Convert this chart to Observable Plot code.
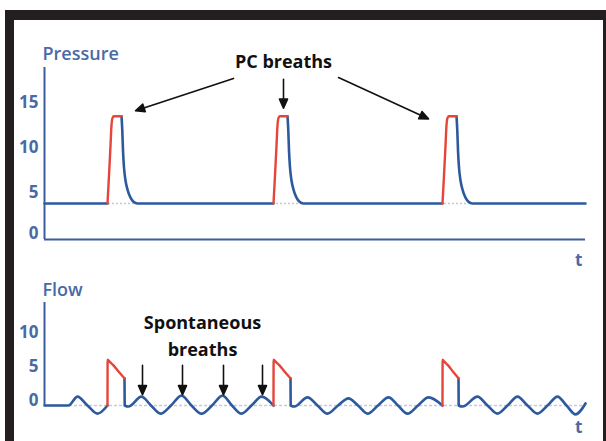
<!DOCTYPE html>
<html><head><meta charset="utf-8">
<script src="https://cdn.jsdelivr.net/npm/d3@7"></script>
<script src="https://cdn.jsdelivr.net/npm/@observablehq/plot@0.6"></script>
<style>
body{margin:0;background:#fff;}
#wrap{position:relative;width:606px;height:441px;overflow:hidden;}
#frame{position:absolute;left:5px;top:10px;width:603px;height:441px;box-sizing:border-box;border-style:solid;border-color:#231f20;border-width:10px 5px 10px 9px;pointer-events:none;}
#p,#f{position:absolute;left:0;}
#p{top:0;}
#f{top:270px;}
</style></head><body>
<div id="wrap"><div id="p"></div><div id="f"></div><div id="frame"></div></div>
<script>
// ---- Data (time in s, pressure in cmH2O, flow units as on the axis) ----
// Pressure: blue trace (PEEP baseline + expiratory decay); NaN = gap where red inspiration is drawn
const pressureBlueT = [0, 1.575, NaN, 1.925, 1.945, 1.9625, 1.9875, 2.025, 2.075, 2.15, 2.225, 2.325, 5.725, NaN,
  6.075, 6.095, 6.1125, 6.1375, 6.175, 6.225, 6.3, 6.375, 6.475, 9.95, NaN,
  10.3, 10.32, 10.3375, 10.3625, 10.4, 10.45, 10.525, 10.6, 10.7, 13.525];
const pressureBlueV = [4, 4, NaN, 13.7, 12.1, 9.9, 8.0, 6.55, 5.55, 4.65, 4.2, 4.0, 4, NaN,
  13.7, 12.1, 9.9, 8.0, 6.55, 5.55, 4.65, 4.2, 4, 4, NaN,
  13.7, 12.1, 9.9, 8.0, 6.55, 5.55, 4.65, 4.2, 4, 4];
// Pressure: red inspiratory phase of the PC breaths
const pressureRedT = [1.575, 1.6125, 1.65, 1.675, 1.6925, 1.7125, 1.7375, 1.925, NaN,
  5.725, 5.7625, 5.8, 5.825, 5.8425, 5.8625, 5.8875, 6.075, NaN,
  9.95, 9.9875, 10.025, 10.05, 10.0675, 10.0875, 10.1125, 10.3];
const pressureRedV = [4, 7.1, 10.4, 12.7, 13.4, 13.6, 13.7, 13.7, NaN,
  4, 7.1, 10.4, 12.7, 13.4, 13.6, 13.7, 13.7, NaN,
  4, 7.1, 10.4, 12.7, 13.4, 13.6, 13.7, 13.7];
// Flow: blue trace (spontaneous breathing + expiration)
const flowBlueT = [0, 0.6, 0.825, 1.075, 1.325, 1.575, NaN,
  2.0, 2.005, 2.1, 2.425, 2.6625, 2.9, 3.1625, 3.425, 3.675, 3.925, 4.1875, 4.45, 4.6875, 4.925, 5.175, 5.425, 5.725, NaN,
  6.15, 6.155, 6.25, 6.575, 6.825, 7.075, 7.3375, 7.6, 7.8375, 8.075, 8.3375, 8.6, 8.8375, 9.075, 9.3375, 9.6, 9.95, NaN,
  10.35, 10.355, 10.45, 10.825, 11.075, 11.325, 11.575, 11.825, 12.075, 12.325, 12.575, 12.825, 13.05, 13.275, 13.525];
const flowBlueV = [0, 0, 1.3, 0, -1.2, 0, NaN,
  4.0, 0, -0.15, 1.3, 0, -1.2, 0, 1.45, 0, -1.2, 0, 1.45, 0, -1.2, 0, 1.3, 0, NaN,
  4.0, 0, -0.15, 1.2, 0, -1.2, 0, 1.05, 0, -1.2, 0, 1.2, 0, -1.2, 0, 1.2, 0, NaN,
  4.0, 0, -0.15, 1.3, 0, -1.2, 0, 1.3, 0, -1.2, 0, 1.3, 0, -1.3, 0.3];
// Flow: red inspiratory flow of the PC breaths
const flowRedT = [1.575, 1.578, 1.625, 1.725, 1.85, 2.0, NaN,
  5.725, 5.728, 5.775, 5.875, 6.0, 6.15, NaN,
  9.95, 9.953, 9.995, 10.09, 10.21, 10.35];
const flowRedV = [0, 6.75, 6.45, 5.9, 5.0, 4.0, NaN,
  0, 6.75, 6.45, 5.9, 5.0, 4.0, NaN,
  0, 6.75, 6.45, 5.9, 5.0, 4.0];
// Tick labels
const pressureTicks = [5, 10, 15];
const flowTicks = [0, 5, 10];
// Annotations (data coordinates)
const pcLabel = "PC breaths";
const pcArrowX1 = [4.725, 5.975, 7.35], pcArrowY1 = [17.9, 17.8, 18.0];
const pcArrowX2 = [2.275, 5.975, 9.6],  pcArrowY2 = [14.3, 14.6, 13.4];
const spontLabel = "Spontaneous\nbreaths";
const spontArrowT = [2.45, 3.45, 4.475, 5.45];
const spontArrowTop = [5.9, 5.9, 5.9, 5.9];
const spontArrowTip = [1.6, 1.6, 1.6, 1.6];

// ---- Style ----
const FONT = "'Open Sans', sans-serif";
const BLUE = "#2d5a9e", AXIS = "#3b5da0", LABEL = "#4a6aa5", RED = "#e5453a", DASH = "#c5c9da", INK = "#111";
const idx = a => d3.range(a.length);

// Filled-head arrow shape for Plot.vector (drawn from the start point, pointing "up" before rotation)
const arrowShape = {
  draw(ctx, l) {
    const hl = 9, hw = 4;
    ctx.moveTo(0, 0); ctx.lineTo(0, -(l - hl + 1));
    ctx.moveTo(0, -l); ctx.lineTo(-hw, -l + hl); ctx.lineTo(hw, -l + hl); ctx.closePath();
  }
};

// Build a plot; arrows are given in data space and converted with the plot's own scales
function build(options, baseMarks, arrows) {
  const probe = Plot.plot({...options, marks: baseMarks});
  const sx = probe.scale("x"), sy = probe.scale("y");
  const {x1, y1, x2, y2} = arrows;
  const rot = [], len = [];
  for (let i = 0; i < x1.length; ++i) {
    const dx = sx.apply(x2[i]) - sx.apply(x1[i]);
    const dy = sy.apply(y2[i]) - sy.apply(y1[i]);
    rot.push(Math.atan2(dx, -dy) * 180 / Math.PI);
    len.push(Math.hypot(dx, dy));
  }
  const vec = Plot.vector(idx(x1), {x: x1, y: y1, length: len, rotate: rot, anchor: "start",
    shape: arrowShape, stroke: INK, fill: INK, strokeWidth: 1.6});
  return Plot.plot({...options, length: {type: "identity"}, marks: [...baseMarks, vec]});
}

const pOpts = {
  width: 606, height: 270,
  marginLeft: 44, marginRight: 21, marginTop: 67, marginBottom: 31,
  style: {background: "transparent", overflow: "visible", fontFamily: FONT},
  x: {domain: [0, 13.525], axis: null},
  y: {domain: [0, 19.11], axis: null}
};
const pMarks = [
  Plot.ruleY([4], {stroke: DASH, strokeDasharray: "2,2", strokeWidth: 1.5}),
  Plot.line(idx(pressureBlueT), {x: pressureBlueT, y: pressureBlueV, stroke: BLUE, strokeWidth: 2.6, curve: "monotone-x"}),
  Plot.line(idx(pressureRedT), {x: pressureRedT, y: pressureRedV, stroke: RED, strokeWidth: 2.4, curve: "monotone-x"}),
  Plot.ruleX([0], {stroke: AXIS, strokeWidth: 2}),
  Plot.ruleY([0], {stroke: AXIS, strokeWidth: 2}),
  Plot.axisY(pressureTicks, {tickSize: 0, tickPadding: 6, dy: -2, color: LABEL, fontSize: 17, fontWeight: "bold", label: null}),
  Plot.axisY([0], {tickSize: 0, tickPadding: 6, dy: -6, color: LABEL, fontSize: 17, fontWeight: "bold", label: null}),
  Plot.text(["Pressure"], {frameAnchor: "top-left", dx: -2, dy: -8, lineAnchor: "bottom", textAnchor: "start", fill: LABEL, fontSize: 18, fontWeight: 600}),
  Plot.text(["t"], {frameAnchor: "bottom-right", dx: -3, dy: 26, lineAnchor: "bottom", fill: LABEL, fontSize: 17, fontWeight: "bold"}),
  Plot.text([pcLabel], {x: [5.975], y: [19.0], lineAnchor: "bottom", fill: INK, fontSize: 18, fontWeight: "bold"})
];
const pressure = build(pOpts, pMarks, {x1: pcArrowX1, y1: pcArrowY1, x2: pcArrowX2, y2: pcArrowY2});

const fOpts = {
  width: 606, height: 171,
  marginLeft: 44, marginRight: 21, marginTop: 32, marginBottom: 36,
  style: {background: "transparent", overflow: "visible", fontFamily: FONT},
  x: {domain: [0, 13.525], axis: null},
  y: {domain: [0, 15.15], axis: null}
};
const fMarks = [
  Plot.ruleY([0], {stroke: DASH, strokeDasharray: "3,2", strokeWidth: 1.5}),
  Plot.line(idx(flowBlueT), {x: flowBlueT, y: flowBlueV, stroke: BLUE, strokeWidth: 2.6, curve: "monotone-x"}),
  Plot.line(idx(flowRedT), {x: flowRedT, y: flowRedV, stroke: RED, strokeWidth: 2.4, curve: "monotone-x"}),
  Plot.ruleX([0], {stroke: AXIS, strokeWidth: 2}),
  Plot.axisY(flowTicks, {tickSize: 0, tickPadding: 6, dy: -5, color: LABEL, fontSize: 17, fontWeight: "bold", label: null}),
  Plot.text(["Flow"], {frameAnchor: "top-left", dx: -2, dy: -7, lineAnchor: "bottom", textAnchor: "start", fill: LABEL, fontSize: 18, fontWeight: 600}),
  Plot.text(["t"], {frameAnchor: "bottom-right", dx: -3, dy: 27, lineAnchor: "bottom", fill: LABEL, fontSize: 17, fontWeight: "bold"}),
  Plot.text([spontLabel], {x: [3.95], y: [7.35], lineAnchor: "bottom", lineHeight: 1.45, fill: INK, fontSize: 18, fontWeight: "bold"})
];
const flow = build(fOpts, fMarks, {x1: spontArrowT, y1: spontArrowTop, x2: spontArrowT, y2: spontArrowTip});

document.getElementById("p").appendChild(pressure);
document.getElementById("f").appendChild(flow);
</script>
</body></html>
